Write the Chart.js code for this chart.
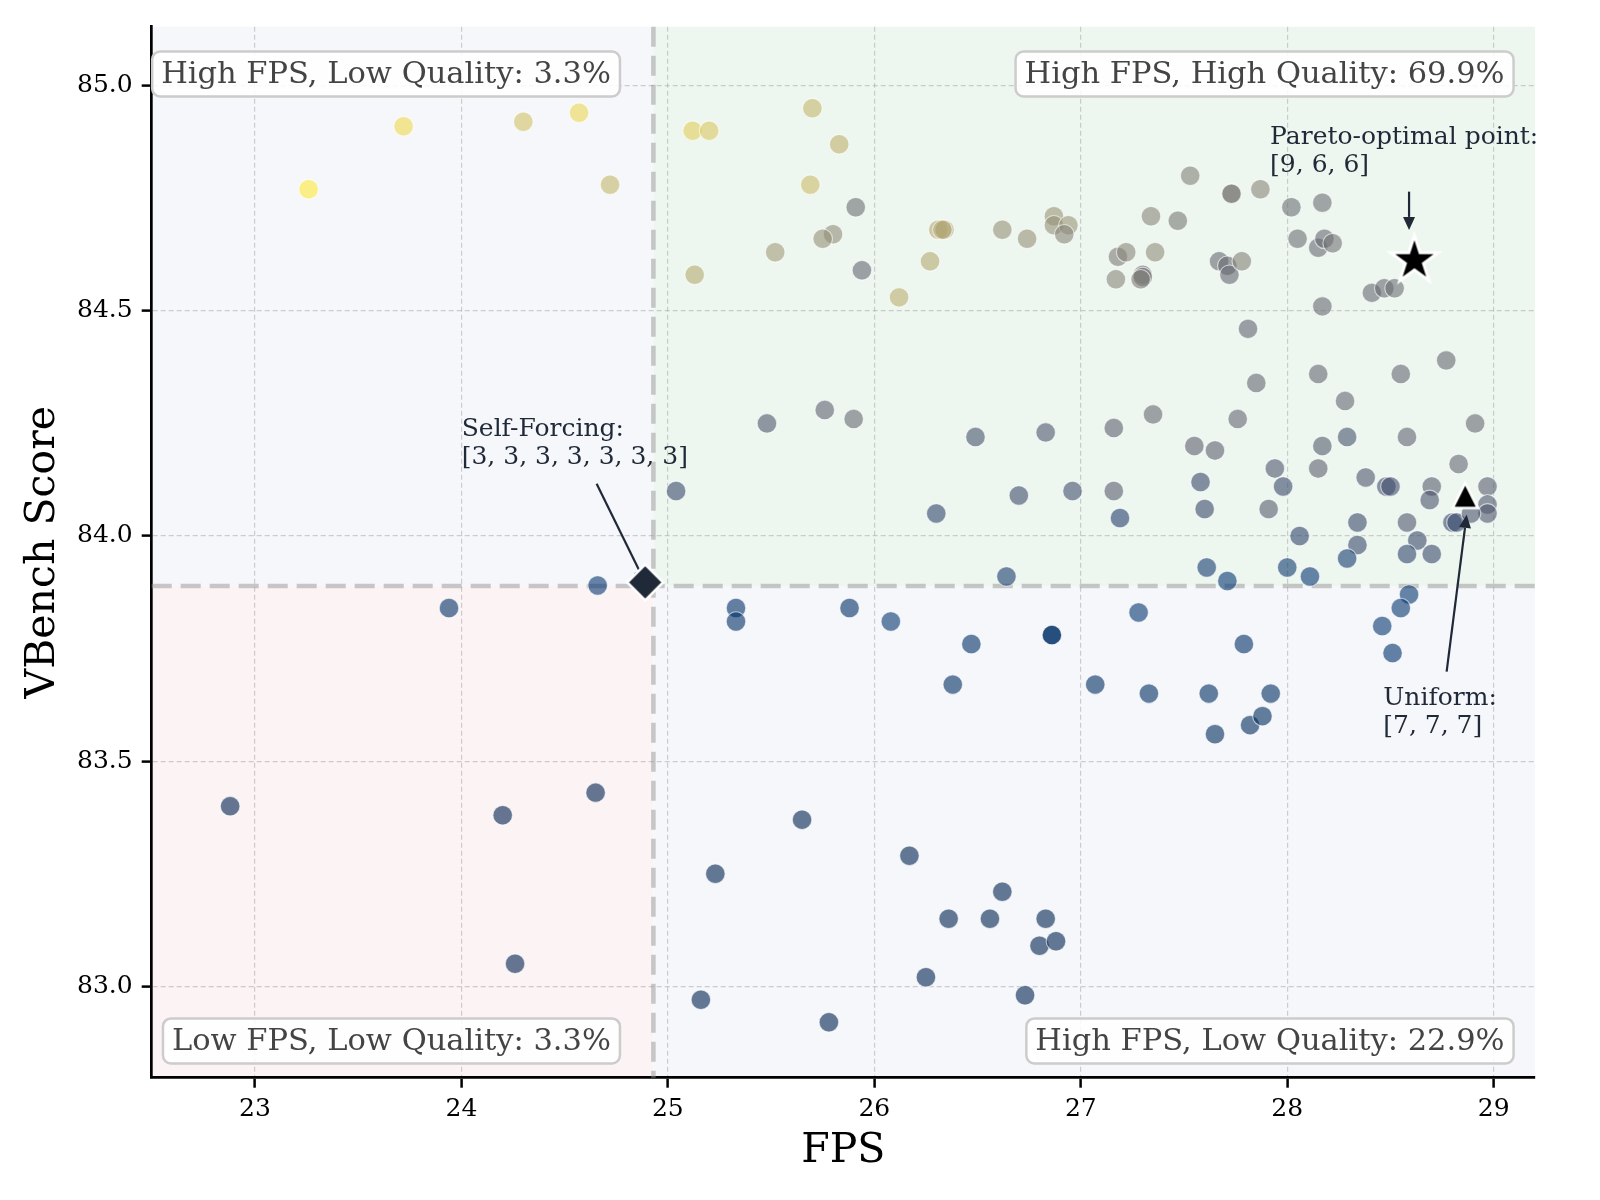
<!DOCTYPE html>
<html><head><meta charset="utf-8">
<script src="https://cdn.jsdelivr.net/npm/chart.js@4.4.1/dist/chart.umd.min.js"></script>
<style>html,body{margin:0;padding:0;background:#fff}#wrap{width:1600px;height:1200px}</style>
</head><body><div id="wrap"><canvas id="c" width="1600" height="1200"></canvas></div>
<script>
// ---------------- DATA ----------------
const fpsValues = [
  23.26,23.72,24.30,24.57,24.72,
  24.66,
  23.94,22.88,24.20,24.65,24.26,
  25.12,25.20,25.70,25.83,25.69,25.91,25.80,25.75,25.52,25.94,25.13,26.12,26.27,26.31,26.34,26.33,26.62,26.74,26.87,26.87,26.94,26.92,27.34,27.18,27.22,27.36,27.17,27.30,27.30,27.29,
  27.53,27.73,27.73,27.87,27.47,28.02,28.17,28.05,28.15,28.18,28.22,27.67,27.71,27.72,27.78,28.41,28.47,28.52,28.17,27.81,
  25.04,25.48,25.76,25.90,26.49,26.83,27.16,27.35,26.30,26.70,26.96,27.16,27.19,26.64,
  28.77,28.15,28.55,27.85,28.28,27.76,28.91,27.55,27.65,28.17,28.29,28.58,28.83,27.94,28.15,28.38,27.98,27.58,27.60,27.91,
  28.48,28.50,28.70,28.69,28.97,28.97,28.97,28.80,28.82,28.89,28.34,28.58,28.06,28.63,28.34,28.58,28.70,28.29,27.61,27.71,28.00,28.11,
  25.33,25.33,25.88,26.08,26.47,26.86,26.86,27.28,26.38,27.07,27.33,
  28.59,28.55,28.46,28.51,27.79,27.62,27.92,27.65,27.82,27.88,
  25.65,25.23,26.17,26.62,26.36,26.56,26.83,26.80,26.88,26.25,26.73,25.16,25.78
];
const vbenchScores = [
  84.77,84.91,84.92,84.94,84.78,
  83.89,
  83.84,83.40,83.38,83.43,83.05,
  84.90,84.90,84.95,84.87,84.78,84.73,84.67,84.66,84.63,84.59,84.58,84.53,84.61,84.68,84.68,84.68,84.68,84.66,84.71,84.69,84.69,84.67,84.71,84.62,84.63,84.63,84.57,84.58,84.575,84.57,
  84.80,84.76,84.76,84.77,84.70,84.73,84.74,84.66,84.64,84.66,84.65,84.61,84.60,84.58,84.61,84.54,84.55,84.55,84.51,84.46,
  84.10,84.25,84.28,84.26,84.22,84.23,84.24,84.27,84.05,84.09,84.10,84.10,84.04,83.91,
  84.39,84.36,84.36,84.34,84.30,84.26,84.25,84.20,84.19,84.20,84.22,84.22,84.16,84.15,84.15,84.13,84.11,84.12,84.06,84.06,
  84.11,84.11,84.11,84.08,84.11,84.07,84.05,84.03,84.03,84.05,84.03,84.03,84.00,83.99,83.98,83.96,83.96,83.95,83.93,83.90,83.93,83.91,
  83.84,83.81,83.84,83.81,83.76,83.78,83.78,83.83,83.67,83.67,83.65,
  83.87,83.84,83.80,83.74,83.76,83.65,83.65,83.56,83.58,83.60,
  83.37,83.25,83.29,83.21,83.15,83.15,83.15,83.09,83.10,83.02,82.98,82.97,82.92
];
// colour value of each point (0 = dark blue ... 1 = yellow)
const colorValues = [
  1.00,0.93,0.82,0.92,0.78,
  0.12,
  0.08,0.00,0.00,0.00,0.00,
  0.88,0.85,0.78,0.76,0.80,0.42,0.58,0.60,0.65,0.38,0.72,0.74,0.72,0.72,0.70,0.70,0.60,0.60,0.62,0.60,0.62,0.55,0.55,0.50,0.55,0.58,0.55,0.45,0.45,0.50,
  0.52,0.50,0.50,0.55,0.48,0.42,0.42,0.42,0.40,0.40,0.45,0.40,0.40,0.38,0.52,0.40,0.40,0.42,0.40,0.37,
  0.22,0.30,0.36,0.40,0.27,0.30,0.35,0.40,0.20,0.24,0.25,0.33,0.18,0.16,
  0.40,0.38,0.38,0.38,0.38,0.38,0.40,0.35,0.35,0.32,0.27,0.37,0.38,0.30,0.35,0.30,0.22,0.22,0.22,0.33,
  0.25,0.25,0.33,0.28,0.33,0.30,0.30,0.22,0.22,0.28,0.22,0.30,0.20,0.22,0.22,0.20,0.22,0.15,0.15,0.12,0.14,0.12,
  0.08,0.08,0.08,0.12,0.08,0.08,0.08,0.12,0.07,0.07,0.07,
  0.12,0.12,0.12,0.10,0.08,0.07,0.07,0.05,0.05,0.05,
  0.00,0.00,0.00,0.00,0.00,0.00,0.00,0.00,0.00,0.00,0.00,0.00,0.00
];
const selfForcingPoint = {x: 24.89, y: 83.897};
const paretoPoint = {x: 28.616, y: 84.612};
const uniformPoint = {x: 28.862, y: 84.09};
const thresholdFps = 24.93;
const thresholdScore = 83.889;
const xTickValues = [23, 24, 25, 26, 27, 28, 29];
const yTickValues = [83.0, 83.5, 84.0, 84.5, 85.0];
const quadrantLabels = ['High FPS, Low Quality: 3.3%', 'High FPS, High Quality: 69.9%',
                        'Low FPS, Low Quality: 3.3%', 'High FPS, Low Quality: 22.9%'];
const annotationTexts = [['Pareto-optimal point:', '[9, 6, 6]'],
                         ['Self-Forcing:', '[3, 3, 3, 3, 3, 3, 3]'],
                         ['Uniform:', '[7, 7, 7]']];

// ---------------- STYLE / LAYOUT ----------------
const SERIF = "'DejaVu Serif', serif";
const CIVIDIS = ['#00224E','#00336F','#39486B','#575C6D','#707173','#8A8779','#A69D75','#C4B56C','#E4CF5B','#FEE838'];
function hexRgb(h){return [parseInt(h.slice(1,3),16),parseInt(h.slice(3,5),16),parseInt(h.slice(5,7),16)];}
function cividis(t, a){
  t = Math.max(0, Math.min(1, t));
  const p = t * (CIVIDIS.length - 1), i = Math.min(CIVIDIS.length - 2, Math.floor(p)), f = p - i;
  const c0 = hexRgb(CIVIDIS[i]), c1 = hexRgb(CIVIDIS[i+1]);
  const c = c0.map((v,k)=>Math.round(v + (c1[k]-v)*f));
  return `rgba(${c[0]},${c[1]},${c[2]},${a})`;
}
function makeMarker(kind, size, fill, edge, lw){
  const s = Math.ceil(size*2 + lw*2 + 8);
  const cv = document.createElement('canvas'); cv.width = cv.height = s;
  const g = cv.getContext('2d'); const cx = s/2, cy = s/2;
  g.beginPath();
  if (kind === 'star'){
    for (let i=0;i<10;i++){ const r = i%2 ? size*0.382 : size; const a = -Math.PI/2 + i*Math.PI/5; g.lineTo(cx + r*Math.cos(a), cy + r*Math.sin(a)); }
  } else if (kind === 'triangle'){
    g.moveTo(cx, cy-size); g.lineTo(cx+size, cy+size); g.lineTo(cx-size, cy+size);
  } else {
    g.moveTo(cx, cy-size); g.lineTo(cx+size, cy); g.lineTo(cx, cy+size); g.lineTo(cx-size, cy);
  }
  g.closePath();
  g.fillStyle = fill; g.fill();
  g.lineJoin = 'miter'; g.lineWidth = lw; g.strokeStyle = edge; g.stroke();
  return cv;
}

const annotationLayout = [
  {text: [27.917, 84.8706], from: [28.590, 84.7647], to: [28.590, 84.6797]},
  {text: [24.0015, 84.2231], from: [24.655, 84.116], to: [24.89, 83.897]},
  {text: [28.465, 83.6253], from: [28.772, 83.699], to: [28.869, 84.047]}
];

function drawArrow(ctx, x1, y1, x2, y2){
  const ang = Math.atan2(y2-y1, x2-x1), hl = 13, hw = 6;
  const bx = x2 - hl*Math.cos(ang), by = y2 - hl*Math.sin(ang);
  ctx.strokeStyle = '#1f2937'; ctx.fillStyle = '#1f2937'; ctx.lineWidth = 2.2;
  ctx.beginPath(); ctx.moveTo(x1, y1); ctx.lineTo(bx, by); ctx.stroke();
  ctx.beginPath(); ctx.moveTo(x2, y2);
  ctx.lineTo(bx + hw*Math.sin(ang), by - hw*Math.cos(ang));
  ctx.lineTo(bx - hw*Math.sin(ang), by + hw*Math.cos(ang));
  ctx.closePath(); ctx.fill();
}
function roundRect(ctx, x, y, w, h, r){
  ctx.beginPath(); ctx.moveTo(x+r, y); ctx.lineTo(x+w-r, y); ctx.arcTo(x+w, y, x+w, y+r, r);
  ctx.lineTo(x+w, y+h-r); ctx.arcTo(x+w, y+h, x+w-r, y+h, r); ctx.lineTo(x+r, y+h);
  ctx.arcTo(x, y+h, x, y+h-r, r); ctx.lineTo(x, y+r); ctx.arcTo(x, y, x+r, y, r); ctx.closePath();
}

const SCATTER_INDEX = 3;
const overlayPlugin = {
  id: 'overlay',
  beforeDraw(chart){
    const {ctx, chartArea: a, scales: {x, y}} = chart;
    const tx = x.getPixelForValue(thresholdFps), ty = y.getPixelForValue(thresholdScore);
    ctx.save();
    ctx.fillStyle = '#ffffff'; ctx.fillRect(0, 0, chart.width, chart.height);
    ctx.fillStyle = '#f6f7fb'; ctx.fillRect(a.left, a.top, tx - a.left, ty - a.top);
    ctx.fillStyle = '#edf7ef'; ctx.fillRect(tx, a.top, a.right - tx, ty - a.top);
    ctx.fillStyle = '#fcf3f4'; ctx.fillRect(a.left, ty, tx - a.left, a.bottom - ty);
    ctx.fillStyle = '#f6f7fb'; ctx.fillRect(tx, ty, a.right - tx, a.bottom - ty);
    ctx.restore();
  },
  beforeDatasetsDraw(chart){
    const {ctx, chartArea: a, scales: {x, y}} = chart;
    const tx = x.getPixelForValue(thresholdFps), ty = y.getPixelForValue(thresholdScore);
    ctx.save();
    ctx.strokeStyle = 'rgba(150,150,150,0.5)'; ctx.lineWidth = 4.5; ctx.setLineDash([20, 9]);
    ctx.beginPath(); ctx.moveTo(a.left, ty); ctx.lineTo(a.right, ty); ctx.stroke();
    ctx.beginPath(); ctx.moveTo(tx, a.top); ctx.lineTo(tx, a.bottom); ctx.stroke();
    ctx.restore();
  },
  afterDatasetDraw(chart, args){
    if (args.index !== SCATTER_INDEX) return;
    const {ctx, scales: {x, y}} = chart;
    ctx.save();
    annotationLayout.forEach(an => drawArrow(ctx, x.getPixelForValue(an.from[0]), y.getPixelForValue(an.from[1]),
                                                 x.getPixelForValue(an.to[0]), y.getPixelForValue(an.to[1])));
    ctx.restore();
  },
  afterDatasetsDraw(chart){
    const {ctx, chartArea: a, scales: {x, y}} = chart;
    ctx.save();
    ctx.font = `25px ${SERIF}`; ctx.fillStyle = '#1f2937'; ctx.textAlign = 'left'; ctx.textBaseline = 'alphabetic';
    annotationLayout.forEach((an, i) => {
      const px = x.getPixelForValue(an.text[0]), py = y.getPixelForValue(an.text[1]);
      annotationTexts[i].forEach((line, k) => ctx.fillText(line, px, py + k*28));
    });
    const W = a.right - a.left, H = a.bottom - a.top;
    const spots = [[0.332, 0.045], [0.978, 0.045], [0.332, 0.965], [0.978, 0.965]];
    ctx.font = `30.5px ${SERIF}`; ctx.textBaseline = 'middle'; ctx.textAlign = 'right';
    quadrantLabels.forEach((t, i) => {
      const rx = a.left + spots[i][0]*W, cy = a.top + spots[i][1]*H;
      const w = ctx.measureText(t).width, pad = 9, h = 45;
      roundRect(ctx, rx - w - pad, cy - h/2, w + 2*pad, h, 8);
      ctx.fillStyle = 'rgba(255,255,255,0.85)'; ctx.fill();
      ctx.lineWidth = 2.5; ctx.strokeStyle = '#cccccc'; ctx.stroke();
      ctx.fillStyle = '#444444'; ctx.fillText(t, rx, cy + 1);
    });
    ctx.restore();
  }
};

Chart.defaults.font.family = SERIF;
const scatterPoints = fpsValues.map((v, i) => ({x: v, y: vbenchScores[i]}));

new Chart(document.getElementById('c'), {
  type: 'scatter',
  data: {
    datasets: [
      {data: [paretoPoint], pointStyle: makeMarker('star', 25, '#000000', '#ffffff', 3), pointRadius: 12, order: 0},
      {data: [uniformPoint], pointStyle: makeMarker('triangle', 12.5, '#000000', '#ffffff', 2.5), pointRadius: 12, order: 1},
      {data: [selfForcingPoint], pointStyle: makeMarker('diamond', 18, '#1f2937', '#ffffff', 2.5), pointRadius: 12, order: 2},
      {data: scatterPoints, order: 10, pointRadius: 9.8, pointBorderWidth: 1.2,
       pointBackgroundColor: colorValues.map(t => cividis(t, 0.6)),
       pointBorderColor: 'rgba(255,255,255,0.6)'}
    ]
  },
  options: {
    responsive: false, animation: false, devicePixelRatio: 1, events: [],
    layout: {padding: {top: 26.7, right: 65, left: 0, bottom: 0}},
    plugins: {legend: {display: false}, tooltip: {enabled: false}},
    scales: {
      x: {
        type: 'linear', min: 22.5, max: 29.2,
        afterBuildTicks: ax => { ax.ticks = xTickValues.map(v => ({value: v})); },
        afterFit: s => { s.height = 122.3; },
        ticks: {font: {size: 25}, color: '#000', padding: 7, callback: v => String(v), maxRotation: 0},
        grid: {color: 'rgba(175,175,175,0.6)', lineWidth: 1.2, tickColor: '#000', tickLength: 10, tickWidth: 2.5},
        border: {display: true, color: '#000', width: 2.7, dash: [5, 3]},
        title: {display: true, text: 'FPS', font: {size: 41}, color: '#000', padding: {top: 0, bottom: 24}}
      },
      y: {
        type: 'linear', min: 82.797, max: 85.131,
        afterBuildTicks: ax => { ax.ticks = yTickValues.map(v => ({value: v})); },
        afterFit: s => { s.width = 151.7; },
        ticks: {font: {size: 25}, color: '#000', padding: 9, callback: v => Number(v).toFixed(1)},
        grid: {color: 'rgba(175,175,175,0.6)', lineWidth: 1.2, tickColor: '#000', tickLength: 10, tickWidth: 2.5},
        border: {display: true, color: '#000', width: 2.7, dash: [5, 3]},
        title: {display: true, text: 'VBench Score', font: {size: 41}, color: '#000', padding: {top: 19, bottom: 0}}
      }
    }
  },
  plugins: [overlayPlugin]
});
</script></body></html>
